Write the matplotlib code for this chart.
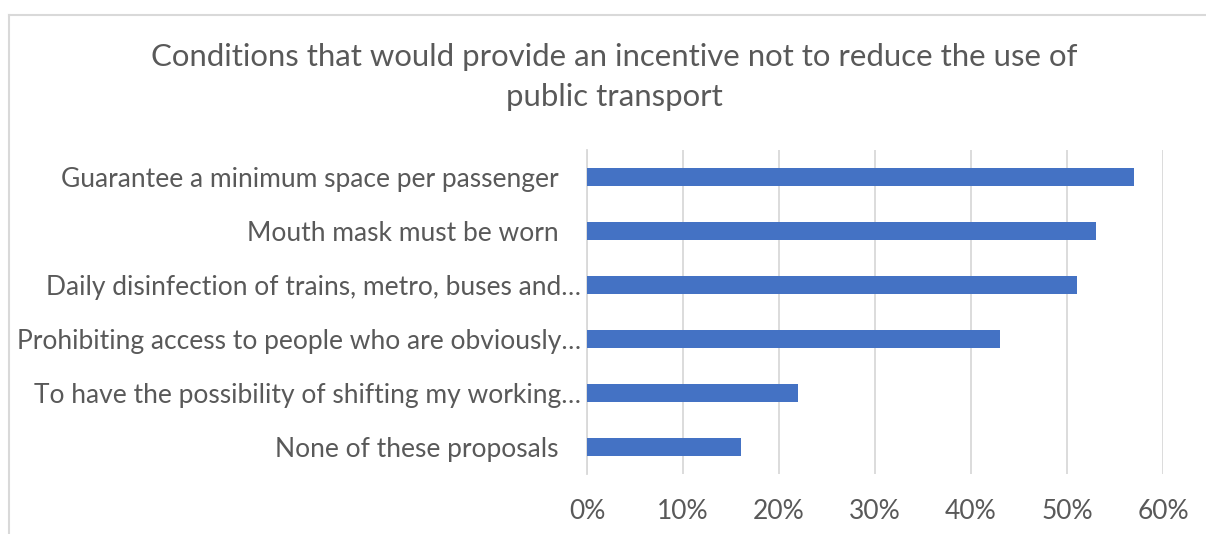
import matplotlib.pyplot as plt
from matplotlib.lines import Line2D
from matplotlib.ticker import PercentFormatter
from matplotlib.transforms import ScaledTranslation

plt.rcParams['font.family'] = ['Lato', 'DejaVu Sans']

categories = [
    'Guarantee a minimum space per passenger',
    'Mouth mask must be worn',
    'Daily disinfection of trains, metro, buses and\u2026',
    'Prohibiting access to people who are obviously\u2026',
    'To have the possibility of shifting my working\u2026',
    'None of these proposals',
]
shares = [0.57, 0.53, 0.51, 0.43, 0.22, 0.16]
x_ticks = [0.0, 0.1, 0.2, 0.3, 0.4, 0.5, 0.6]

title = 'Conditions that would provide an incentive not to reduce the use of\npublic transport'

text_col = '#595959'
grid_col = '#D9D9D9'
bar_col = '#4472C4'

W, H = 1206, 534
fig = plt.figure(figsize=(W / 100, H / 100), dpi=100)
ax = fig.add_axes([587 / W, 1 - 474 / H, (1163 - 587) / W, (474 - 150) / H])

pos = list(range(len(categories)))
ax.barh(pos, shares, height=0.35, color=bar_col, zorder=3)
ax.set_ylim(len(categories) - 0.5, -0.5)
ax.set_xlim(0, 0.6)
ax.set_xticks(x_ticks)
ax.xaxis.set_major_formatter(PercentFormatter(1.0, decimals=0))
ax.set_yticks(pos)
ax.set_yticklabels(categories)

ax.grid(axis='x', color=grid_col, linewidth=1.3, zorder=0)
for side in ['top', 'right', 'bottom']:
    ax.spines[side].set_visible(False)
ax.spines['left'].set_color(grid_col)
ax.spines['left'].set_linewidth(1.3)
ax.tick_params(axis='both', length=0, labelsize=19, labelcolor=text_col)
ax.tick_params(axis='y', pad=4)
ax.tick_params(axis='x', pad=18)

# full labels carry a trailing gap, cut-off ones run right up to the axis
for lab in ax.get_yticklabels():
    if not lab.get_text().endswith('\u2026'):
        lab.set_transform(lab.get_transform() + ScaledTranslation(-0.23, 0, fig.dpi_scale_trans))

fig.text(0.5 * (153 + 1075) / W, 1 - 77 / H, title, ha='center', va='center',
         fontsize=22.4, color=text_col, linespacing=1.55)

# chart area frame
fig.add_artist(Line2D([9 / W, 9 / W], [0, 1 - 15 / H], color=grid_col, linewidth=1.5))
fig.add_artist(Line2D([9 / W, 1], [1 - 15 / H, 1 - 15 / H], color=grid_col, linewidth=1.5))

fig.savefig('out.png', dpi=100)
